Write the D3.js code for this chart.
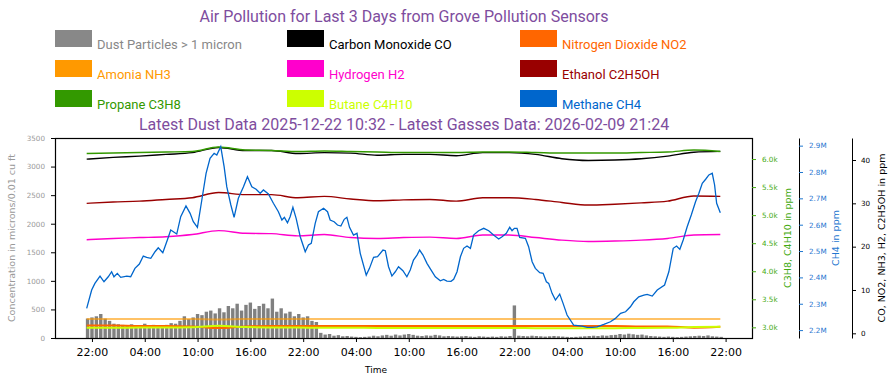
<!DOCTYPE html>
<html>
<head>
<meta charset="utf-8">
<script src="https://cdn.jsdelivr.net/npm/d3@7"></script>
<style>
  body { margin: 0; background: #fff; }
</style>
</head>
<body>
<div id="chart"></div>
<script>
// ---- data ----
var seriesNames = ["Dust Particles > 1 micron", "Carbon Monoxide CO", "Nitrogen Dioxide NO2",
                   "Amonia NH3", "Hydrogen H2", "Ethanol C2H5OH",
                   "Propane C3H8", "Butane C4H10", "Methane CH4"];
var seriesColors = ["#888888", "#000000", "#ff6600",
                    "#ff9900", "#ff00cc", "#990000",
                    "#339900", "#ccff00", "#0066cc"];

// gas sensors, every 3 hours
var gasTimes = ["2026-02-06 21:24", "2026-02-07 00:24", "2026-02-07 03:24", "2026-02-07 06:24", "2026-02-07 09:24",
                "2026-02-07 12:24", "2026-02-07 15:24", "2026-02-07 18:24", "2026-02-07 21:24", "2026-02-08 00:24",
                "2026-02-08 03:24", "2026-02-08 06:24", "2026-02-08 09:24", "2026-02-08 12:24", "2026-02-08 15:24",
                "2026-02-08 18:24", "2026-02-08 21:24", "2026-02-09 00:24", "2026-02-09 03:24", "2026-02-09 06:24",
                "2026-02-09 09:24", "2026-02-09 12:24", "2026-02-09 15:24", "2026-02-09 18:24", "2026-02-09 21:24"];
var coValues = [40.2, 40.6, 40.9, 41.3, 41.7, 42.9, 42.2, 42.2, 41.5, 41.7, 41.6, 41.1, 41.3,
                41.3, 41.0, 41.7, 41.7, 41.3, 40.3, 39.9, 40.0, 40.3, 40.9, 41.8, 42.0];
var no2Values = [1.8, 1.8, 1.7, 1.7, 1.6, 1.2, 1.6, 1.7, 1.7, 1.7, 1.7, 1.7, 1.7,
                 1.7, 1.7, 1.7, 1.7, 1.7, 1.7, 1.7, 1.7, 1.6, 1.6, 1.3, 1.5];
var nh3Values = [3.3, 3.3, 3.3, 3.3, 3.3, 3.2, 3.3, 3.3, 3.3, 3.3, 3.3, 3.3, 3.3,
                 3.3, 3.3, 3.3, 3.3, 3.3, 3.3, 3.3, 3.3, 3.3, 3.3, 3.3, 3.3];
var h2Values = [21.6, 21.9, 22.1, 22.3, 22.8, 23.7, 23.1, 23.0, 22.5, 22.8, 22.1, 21.9, 22.1,
                22.2, 21.9, 22.7, 22.7, 22.1, 21.5, 21.2, 21.3, 21.5, 21.9, 22.7, 22.8];
var ethanolValues = [30.0, 30.3, 30.5, 30.9, 31.3, 32.5, 32.0, 32.0, 31.3, 31.6, 31.0, 30.6, 30.8,
                     30.9, 30.5, 31.3, 31.3, 30.9, 30.2, 29.6, 29.8, 30.1, 30.5, 31.7, 31.6];
var propaneValues = [6098, 6107, 6116, 6125, 6134, 6214, 6160, 6152, 6134, 6143, 6134, 6125, 6116,
                     6116, 6116, 6125, 6125, 6116, 6107, 6107, 6107, 6116, 6125, 6160, 6134];
var butaneValues = [2993, 2993, 2995, 2995, 3000, 3028, 3005, 2998, 2995, 2993, 2993, 2990, 2990,
                    2990, 2988, 2990, 2990, 2985, 2983, 2983, 2985, 2988, 2992, 3005, 3010];

// methane, finer readings
var ch4Times = ["2026-02-06 21:24","2026-02-06 21:58","2026-02-06 22:20","2026-02-06 22:55","2026-02-06 23:22","2026-02-06 23:51",
  "2026-02-07 00:14","2026-02-07 00:30","2026-02-07 00:53","2026-02-07 01:16","2026-02-07 01:57","2026-02-07 02:24","2026-02-07 02:53",
  "2026-02-07 03:23","2026-02-07 03:50","2026-02-07 04:13","2026-02-07 04:41","2026-02-07 05:10","2026-02-07 05:32","2026-02-07 06:03",
  "2026-02-07 06:34","2026-02-07 06:57","2026-02-07 07:38","2026-02-07 08:05","2026-02-07 08:41","2026-02-07 09:09","2026-02-07 09:31",
  "2026-02-07 09:59","2026-02-07 10:29","2026-02-07 10:58","2026-02-07 11:25","2026-02-07 11:53","2026-02-07 12:11","2026-02-07 12:38",
  "2026-02-07 13:01","2026-02-07 13:19","2026-02-07 13:47","2026-02-07 14:09","2026-02-07 14:38","2026-02-07 15:13","2026-02-07 15:40",
  "2026-02-07 16:10","2026-02-07 16:39","2026-02-07 17:07","2026-02-07 17:29","2026-02-07 18:03","2026-02-07 18:37","2026-02-07 19:11",
  "2026-02-07 19:35","2026-02-07 19:52","2026-02-07 20:13","2026-02-07 20:31","2026-02-07 20:50","2026-02-07 21:12","2026-02-07 21:40",
  "2026-02-07 22:14","2026-02-07 22:36","2026-02-07 22:55","2026-02-07 23:22","2026-02-07 23:44",
  "2026-02-08 00:19","2026-02-08 00:46","2026-02-08 01:04","2026-02-08 01:31","2026-02-08 01:54","2026-02-08 02:17","2026-02-08 02:40",
  "2026-02-08 02:58","2026-02-08 03:16","2026-02-08 03:43","2026-02-08 04:07","2026-02-08 04:29","2026-02-08 05:10","2026-02-08 05:32",
  "2026-02-08 06:00","2026-02-08 06:27","2026-02-08 07:04","2026-02-08 07:20","2026-02-08 07:42","2026-02-08 08:05","2026-02-08 08:28",
  "2026-02-08 08:50","2026-02-08 09:20","2026-02-08 09:47","2026-02-08 10:10","2026-02-08 10:32","2026-02-08 10:56","2026-02-08 11:14",
  "2026-02-08 11:37","2026-02-08 12:04","2026-02-08 12:26","2026-02-08 13:01","2026-02-08 13:35","2026-02-08 13:58","2026-02-08 14:20",
  "2026-02-08 14:48","2026-02-08 15:06","2026-02-08 15:29","2026-02-08 15:52","2026-02-08 16:14","2026-02-08 16:37","2026-02-08 17:00",
  "2026-02-08 17:22","2026-02-08 17:56","2026-02-08 18:31","2026-02-08 19:05","2026-02-08 19:38","2026-02-08 20:13","2026-02-08 20:36",
  "2026-02-08 21:05","2026-02-08 21:28","2026-02-08 21:44","2026-02-08 22:00","2026-02-08 22:18","2026-02-08 22:36","2026-02-08 23:15",
  "2026-02-08 23:37",
  "2026-02-09 00:01","2026-02-09 00:23","2026-02-09 00:53","2026-02-09 01:16","2026-02-09 01:38","2026-02-09 01:54","2026-02-09 02:17",
  "2026-02-09 02:40","2026-02-09 03:09","2026-02-09 03:32","2026-02-09 03:59","2026-02-09 04:44","2026-02-09 05:42","2026-02-09 06:16",
  "2026-02-09 06:50","2026-02-09 07:24","2026-02-09 08:10","2026-02-09 08:55","2026-02-09 09:29","2026-02-09 10:04","2026-02-09 10:38",
  "2026-02-09 11:11","2026-02-09 11:34","2026-02-09 12:08","2026-02-09 12:43","2026-02-09 13:05","2026-02-09 13:40","2026-02-09 14:14",
  "2026-02-09 15:04","2026-02-09 15:33","2026-02-09 16:03","2026-02-09 16:26","2026-02-09 16:48","2026-02-09 17:11","2026-02-09 17:38",
  "2026-02-09 18:06","2026-02-09 18:35","2026-02-09 18:58","2026-02-09 19:21","2026-02-09 19:44","2026-02-09 20:06","2026-02-09 20:29",
  "2026-02-09 20:45","2026-02-09 20:59","2026-02-09 21:24"];
var ch4Values = [2282400, 2351900, 2377400, 2405100, 2383400, 2402400,
  2421400, 2402400, 2415300, 2400200, 2405100, 2402400, 2434300, 2450700, 2481000, 2476100, 2472300, 2497400, 2512600, 2493600,
  2541800, 2579800, 2564600, 2630300, 2670900, 2643200, 2611300, 2590000, 2693700, 2795100, 2852100, 2871100, 2864600, 2896200,
  2820200, 2744200, 2674700, 2628000, 2700200, 2744200, 2782200, 2744200, 2734400, 2719200, 2731700, 2716500, 2681200, 2649300,
  2617800, 2628000, 2607500, 2630300, 2666000, 2624200, 2554300, 2497400, 2522800, 2529300, 2605200, 2649300,
  2662200, 2649300, 2617800, 2611300, 2598800, 2595000, 2620400, 2628000, 2590000, 2560800, 2567300, 2491300, 2408900, 2434300,
  2476100, 2478400, 2503800, 2501200, 2440400, 2405100, 2421400, 2440400, 2425200, 2402400, 2427900, 2465900, 2484800, 2503800,
  2484800, 2453300, 2433600, 2402400, 2387200, 2392600, 2386100, 2385000, 2392600, 2421400, 2478400, 2510300, 2519000, 2510300,
  2560800, 2577100, 2586300, 2577100, 2560800, 2545600, 2554300, 2567300, 2590000, 2577100, 2586300, 2586300, 2552100, 2548300,
  2516400,
  2459400, 2434300, 2417600, 2415300, 2383400, 2377400, 2339400, 2313900, 2336700, 2301400, 2257000, 2219000, 2215200, 2210300,
  2210300, 2212500, 2221600, 2231500, 2244400, 2263400, 2269500, 2288500, 2307500, 2326500, 2332900, 2335600, 2329100, 2351900,
  2370900, 2421400, 2510300, 2519000, 2506500, 2541800, 2592300, 2636800, 2687300, 2719200, 2757200, 2772400, 2788700, 2795100,
  2750700, 2681200, 2645500];

// dust sensor logs every 30 minutes from this time on
var dustStart = "2026-02-06 21:30";
var dustValues = [340, 360, 380, 420, 340, 300, 250, 240, 230, 210, 240, 210, 220, 250, 200, 230, 180, 210, 230, 260,
  250, 300, 380, 330, 360, 420, 400, 460, 480, 430, 520, 450, 560, 520, 600, 480, 580, 620, 510, 560,
  600, 520, 690, 460, 520, 430, 460, 380, 420, 360, 380, 300, 280, 90, 60, 70, 40, 50, 30, 35,
  25, 20, 15, 20, 25, 40, 30, 45, 55, 40, 60, 45, 60, 70, 55, 40, 35, 45, 40, 55,
  45, 30, 35, 30, 25, 30, 35, 25, 20, 30, 25, 20, 25, 20, 30, 25, 35, 570, 40, 35,
  30, 40, 35, 30, 25, 30, 35, 30, 25, 20, 15, 20, 25, 30, 35, 40, 35, 45, 40, 50,
  55, 70, 60, 75, 65, 55, 60, 45, 35, 30, 25, 20, 25, 20, 15, 20, 25, 30, 35, 40,
  35, 45, 30, 25, 20];

var title = "Air Pollution for Last 3 Days from Grove Pollution Sensors";
var subtitle = "Latest Dust Data 2025-12-22 10:32 - Latest Gasses Data: 2026-02-09 21:24";

// ---- layout ----
var width = 896, height = 385;
var plot = {left: 55, right: 752, top: 138, bottom: 338};
var titleColor = "#7e4d9e";

var parseTime = d3.timeParse("%Y-%m-%d %H:%M");

var svg = d3.select("#chart")
  .append("svg")
    .attr("width", width)
    .attr("height", height)
    .style("font-family", "'DejaVu Sans', sans-serif");

// time axis with matplotlib-like 5% padding round the gas data
var tExtent = d3.extent(ch4Times, parseTime);
var pad = (tExtent[1] - tExtent[0]) * 0.05;
var x = d3.scaleTime()
    .domain([new Date(+tExtent[0] - pad), new Date(+tExtent[1] + pad)])
    .range([plot.left, plot.right]);

var yDust = d3.scaleLinear().domain([0, 3500]).range([plot.bottom, plot.top]);
var yLpg = d3.scaleLinear().domain([2810, 6375]).range([plot.bottom, plot.top]);
var yCh4 = d3.scaleLinear().domain([2170000, 2929000]).range([plot.bottom, plot.top]);
var yPpm = d3.scaleLinear().domain([-1.08, 45.08]).range([plot.bottom, plot.top]);

// Titles
svg.append("text")
    .attr("x", 404).attr("y", 22)
    .attr("text-anchor", "middle")
    .style("font-family", "Roboto, sans-serif")
    .style("font-size", "16px")
    .attr("fill", titleColor)
    .text(title);
svg.append("text")
    .attr("x", 404).attr("y", 130)
    .attr("text-anchor", "middle")
    .style("font-family", "Roboto, sans-serif")
    .style("font-size", "16px")
    .attr("fill", titleColor)
    .text(subtitle);

// Legend, 3 columns
var colX = [55, 287, 520];
var legend = svg.append("g")
  .selectAll("g")
  .data(seriesNames)
  .enter()
  .append("g")
    .attr("transform", function (d, i) { return "translate(" + colX[i % 3] + "," + (30 + Math.floor(i / 3) * 30) + ")"; });
legend.append("rect")
    .attr("width", 37).attr("height", 17)
    .attr("fill", function (d, i) { return seriesColors[i]; });
legend.append("text")
    .attr("x", 42).attr("y", 19)
    .style("font-family", "Roboto, sans-serif")
    .style("font-size", "13px")
    .attr("fill", function (d, i) { return seriesColors[i]; })
    .text(function (d) { return d; });

// Dust bars
var t0 = parseTime(dustStart);
var dust = dustValues.map(function (v, i) { return {t: d3.timeMinute.offset(t0, 30 * i), v: v}; });
var bw = 3.4;
svg.append("g")
  .selectAll("rect")
  .data(dust)
  .enter()
  .append("rect")
    .attr("x", function (d) { return x(d.t) - bw / 2; })
    .attr("y", function (d) { return yDust(d.v); })
    .attr("width", bw)
    .attr("height", function (d) { return yDust(0) - yDust(d.v); })
    .attr("fill", "#808080");

// Gas lines
var gasT = gasTimes.map(parseTime);
function drawLine(times, values, yScale, color, opts) {
  opts = opts || {};
  var line = d3.line()
      .x(function (d, i) { return x(times[i]); })
      .y(function (d) { return yScale(d); })
      .curve(opts.curve || d3.curveMonotoneX);
  svg.append("path")
      .datum(values)
      .attr("fill", "none")
      .attr("stroke", color)
      .attr("stroke-width", opts.w || 1.4)
      .attr("stroke-opacity", opts.op || 1)
      .attr("d", line);
}
drawLine(gasT, coValues, yPpm, seriesColors[1]);
drawLine(gasT, nh3Values, yPpm, seriesColors[3], {w: 2, op: 0.6});
drawLine(gasT, no2Values, yPpm, seriesColors[2], {w: 2});
drawLine(gasT, h2Values, yPpm, seriesColors[4]);
drawLine(gasT, ethanolValues, yPpm, seriesColors[5]);
drawLine(gasT, propaneValues, yLpg, seriesColors[6]);
drawLine(gasT, butaneValues, yLpg, seriesColors[7], {w: 2});
drawLine(ch4Times.map(parseTime), ch4Values, yCh4, seriesColors[8], {curve: d3.curveLinear, w: 1.3});

// Frame
svg.append("rect")
    .attr("x", plot.left + 0.5).attr("y", plot.top + 0.5)
    .attr("width", plot.right - plot.left).attr("height", plot.bottom - plot.top)
    .attr("fill", "none").attr("stroke", "#000").attr("stroke-width", 1.2);

function styleAxis(g, color, size) {
  g.selectAll(".tick line").attr("stroke", color);
  g.selectAll(".tick text").attr("fill", color).style("font-size", size).style("font-family", "'DejaVu Sans', sans-serif");
}

// Bottom axis
var xAxis = svg.append("g")
    .attr("transform", "translate(0," + plot.bottom + ")")
    .call(d3.axisBottom(x)
      .ticks(d3.timeHour.filter(function (d) { return d.getHours() % 6 === 4; }))
      .tickFormat(d3.timeFormat("%H:%M"))
      .tickSize(4).tickPadding(6));
xAxis.select(".domain").remove();
styleAxis(xAxis, "#000", "11px");

// Left axis
var yAxis = svg.append("g")
    .attr("transform", "translate(" + plot.left + ",0)")
    .call(d3.axisLeft(yDust).ticks(7).tickFormat(d3.format("d")).tickSize(4).tickPadding(6));
yAxis.select(".domain").remove();
styleAxis(yAxis, "#999", "7.2px");
yAxis.selectAll(".tick line").attr("stroke", "#000");

// Right axes
var lpgAxis = svg.append("g")
    .attr("transform", "translate(" + plot.right + ",0)")
    .call(d3.axisRight(yLpg).ticks(7).tickSize(4).tickPadding(6).tickSizeOuter(0)
      .tickFormat(function (d) { return (d / 1000).toFixed(1) + "k"; }));
lpgAxis.select(".domain").remove();
styleAxis(lpgAxis, "#44aa11", "7.2px");

var ch4Axis = svg.append("g")
    .attr("transform", "translate(799,0)")
    .call(d3.axisRight(yCh4).ticks(8).tickSize(4).tickPadding(6).tickSizeOuter(0)
      .tickFormat(function (d) { return (d / 1e6).toFixed(1) + "M"; }));
ch4Axis.select(".domain").attr("stroke", "#000");
styleAxis(ch4Axis, "#1f77d0", "7.2px");

var ppmAxis = svg.append("g")
    .attr("transform", "translate(852,0)")
    .call(d3.axisRight(yPpm).ticks(5).tickSize(4).tickPadding(5).tickSizeOuter(0));
ppmAxis.select(".domain").attr("stroke", "#000");
styleAxis(ppmAxis, "#000", "7.2px");

// Axis labels
function vLabel(xp, txt, color) {
  svg.append("text")
      .attr("transform", "translate(" + xp + "," + (plot.top + plot.bottom) / 2 + ") rotate(-90)")
      .attr("text-anchor", "middle")
      .attr("dominant-baseline", "middle")
      .style("font-size", "9.5px")
      .attr("fill", color)
      .text(txt);
}
vLabel(12, "Concentration in microns/0.01 cu ft", "#999");
vLabel(788, "C3H8, C4H10 in ppm", "#44aa11");
vLabel(836, "CH4 in ppm", "#1f77d0");
vLabel(882, "CO, NO2, NH3, H2, C2H5OH in ppm", "#000");

svg.append("text")
    .attr("x", 376).attr("y", 373)
    .attr("text-anchor", "middle")
    .style("font-size", "9px")
    .text("Time");
</script>
</body>
</html>
